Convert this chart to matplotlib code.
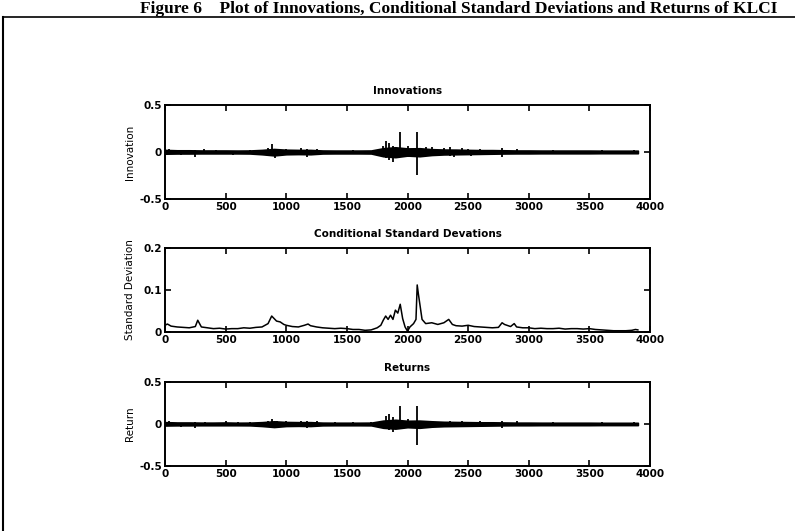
import matplotlib
matplotlib.use("Agg")
import matplotlib.pyplot as plt
from matplotlib.lines import Line2D

# ---------------- data ----------------
band_x = [0, 100, 200, 300, 400, 500, 600, 700, 800, 900, 1000, 1100, 1200, 1300,
          1400, 1500, 1600, 1700, 1800, 1900, 2000, 2100, 2200, 2300, 2400, 2500,
          2600, 2700, 2800, 2900, 3000, 3100, 3200, 3300, 3400, 3500, 3600, 3700,
          3800, 3900]

innov_hi = [0.022, 0.018, 0.018, 0.016, 0.016, 0.016, 0.015, 0.016, 0.022, 0.032,
            0.024, 0.022, 0.022, 0.016, 0.015, 0.015, 0.015, 0.016, 0.040, 0.050,
            0.038, 0.040, 0.030, 0.026, 0.025, 0.022, 0.020, 0.020, 0.018, 0.016,
            0.016, 0.015, 0.015, 0.015, 0.015, 0.015, 0.014, 0.014, 0.014, 0.014]
innov_lo = [-0.018, -0.016, -0.016, -0.015, -0.015, -0.015, -0.015, -0.016, -0.024, -0.036,
            -0.024, -0.022, -0.024, -0.016, -0.015, -0.015, -0.015, -0.016, -0.045, -0.055,
            -0.038, -0.045, -0.032, -0.026, -0.024, -0.022, -0.020, -0.018, -0.016, -0.015,
            -0.015, -0.014, -0.014, -0.014, -0.014, -0.014, -0.013, -0.013, -0.013, -0.013]

innov_spike_x = [30, 130, 250, 320, 420, 560, 700, 800, 850, 880, 910, 1000, 1060, 1120,
                 1170, 1250, 1400, 1550, 1650, 1750, 1800, 1820, 1850, 1880, 1940, 2000,
                 2080, 2150, 2200, 2260, 2300, 2350, 2380, 2450, 2500, 2520, 2600, 2700,
                 2780, 2900, 3000, 3200, 3400, 3600, 3870]
innov_spike_lo = [-0.01, -0.03, -0.05, -0.01, -0.01, -0.03, -0.01, -0.03, -0.02, -0.04,
                  -0.06, -0.02, -0.03, -0.02, -0.05, -0.02, -0.02, -0.01, -0.02, -0.03,
                  -0.03, -0.06, -0.08, -0.11, -0.05, -0.05, -0.24, -0.04, -0.02, -0.04,
                  -0.02, -0.04, -0.05, -0.02, -0.03, -0.04, -0.02, -0.03, -0.05, -0.01,
                  -0.02, -0.01, -0.02, -0.01, -0.01]
innov_spike_hi = [0.03, 0.01, 0.02, 0.03, 0.02, 0.01, 0.02, 0.01, 0.04, 0.09,
                  0.03, 0.03, 0.01, 0.04, 0.03, 0.03, 0.01, 0.02, 0.01, 0.01,
                  0.06, 0.12, 0.10, 0.06, 0.21, 0.06, 0.21, 0.05, 0.05, 0.02,
                  0.04, 0.05, 0.02, 0.04, 0.03, 0.02, 0.03, 0.01, 0.04, 0.03,
                  0.01, 0.02, 0.01, 0.02, 0.02]

ret_hi = [0.022, 0.018, 0.018, 0.016, 0.016, 0.018, 0.015, 0.016, 0.022, 0.032,
          0.024, 0.022, 0.022, 0.016, 0.015, 0.015, 0.015, 0.016, 0.040, 0.050,
          0.038, 0.040, 0.032, 0.026, 0.024, 0.022, 0.020, 0.020, 0.018, 0.016,
          0.016, 0.015, 0.015, 0.015, 0.015, 0.015, 0.014, 0.014, 0.014, 0.014]
ret_lo = [-0.018, -0.016, -0.016, -0.015, -0.015, -0.015, -0.015, -0.016, -0.024, -0.036,
          -0.024, -0.022, -0.024, -0.016, -0.015, -0.015, -0.015, -0.016, -0.045, -0.055,
          -0.038, -0.045, -0.032, -0.026, -0.024, -0.022, -0.020, -0.018, -0.016, -0.015,
          -0.015, -0.014, -0.014, -0.014, -0.014, -0.014, -0.013, -0.013, -0.013, -0.013]

ret_spike_x = [30, 130, 250, 330, 500, 600, 700, 850, 880, 920, 1000, 1120, 1170, 1250,
               1400, 1550, 1700, 1820, 1850, 1880, 1940, 2000, 2080, 2150, 2200, 2260,
               2350, 2450, 2520, 2600, 2780, 2900, 3000, 3200, 3400, 3600, 3870]
ret_spike_lo = [-0.01, -0.03, -0.05, -0.01, -0.01, -0.02, -0.01, -0.02, -0.05, -0.05,
                -0.02, -0.02, -0.05, -0.02, -0.01, -0.02, -0.01, -0.06, -0.07, -0.10,
                -0.04, -0.05, -0.25, -0.03, -0.02, -0.03, -0.03, -0.02, -0.04, -0.02,
                -0.05, -0.01, -0.02, -0.01, -0.02, -0.01, -0.01]
ret_spike_hi = [0.03, 0.01, 0.02, 0.02, 0.03, 0.02, 0.02, 0.04, 0.06, 0.03,
                0.03, 0.04, 0.03, 0.03, 0.02, 0.02, 0.02, 0.10, 0.12, 0.08,
                0.22, 0.06, 0.21, 0.04, 0.04, 0.02, 0.03, 0.03, 0.02, 0.03,
                0.03, 0.03, 0.01, 0.02, 0.01, 0.02, 0.02]

std_x = [0, 20, 50, 100, 150, 200, 250, 270, 300, 350, 400, 450, 500, 550, 600, 650,
         700, 750, 800, 850, 880, 900, 920, 950, 980, 1000, 1050, 1100, 1150, 1180,
         1200, 1250, 1300, 1350, 1400, 1450, 1500, 1550, 1600, 1650, 1700, 1750,
         1780, 1800, 1820, 1840, 1860, 1880, 1900, 1920, 1940, 1960, 1980, 2000,
         2020, 2050, 2070, 2080, 2090, 2100, 2120, 2150, 2200, 2250, 2300, 2340,
         2370, 2400, 2450, 2500, 2550, 2600, 2650, 2700, 2750, 2780, 2800, 2850,
         2880, 2900, 2950, 3000, 3050, 3100, 3150, 3200, 3250, 3300, 3350, 3400,
         3450, 3500, 3550, 3600, 3650, 3700, 3750, 3800, 3850, 3880, 3900]
std_y = [0.016, 0.019, 0.014, 0.012, 0.011, 0.010, 0.013, 0.028, 0.012, 0.010,
         0.008, 0.009, 0.007, 0.008, 0.008, 0.010, 0.009, 0.011, 0.012, 0.020,
         0.038, 0.032, 0.026, 0.024, 0.018, 0.016, 0.013, 0.012, 0.016, 0.019,
         0.015, 0.012, 0.010, 0.009, 0.008, 0.009, 0.008, 0.006, 0.006, 0.004,
         0.005, 0.010, 0.016, 0.028, 0.038, 0.030, 0.040, 0.030, 0.052, 0.045,
         0.066, 0.032, 0.012, 0.002, 0.012, 0.020, 0.030, 0.112, 0.090, 0.070,
         0.030, 0.020, 0.022, 0.018, 0.022, 0.030, 0.018, 0.015, 0.014, 0.016,
         0.013, 0.012, 0.011, 0.010, 0.011, 0.022, 0.018, 0.013, 0.020, 0.012,
         0.010, 0.010, 0.008, 0.009, 0.008, 0.008, 0.009, 0.007, 0.008, 0.008,
         0.007, 0.008, 0.006, 0.005, 0.004, 0.003, 0.003, 0.003, 0.004, 0.006, 0.005]

x_ticks = [0, 500, 1000, 1500, 2000, 2500, 3000, 3500, 4000]
ret_yticks = [-0.5, 0, 0.5]
std_yticks = [0, 0.1, 0.2]

titles = ["Innovations", "Conditional Standard Devations", "Returns"]
ylabels = ["Innovation", "Standard Deviation", "Return"]
fig_title = "Figure 6    Plot of Innovations, Conditional Standard Deviations and Returns of KLCI"

# ---------------- drawing ----------------
W, H = 795, 531
fig = plt.figure(figsize=(W / 100, H / 100), dpi=100)
plt.rcParams['font.family'] = ['DejaVu Sans']

def rect(left, top, right, bottom):
    return [left / W, 1 - bottom / H, (right - left) / W, (bottom - top) / H]

ax1 = fig.add_axes(rect(165, 105, 650, 199))
ax2 = fig.add_axes(rect(165, 248, 650, 332))
ax3 = fig.add_axes(rect(165, 382, 650, 466))

fs = 7.5

def style(ax, yticks, ylabels_txt, title, ylabel):
    ax.set_xlim(0, 4000)
    ax.set_xticks(x_ticks)
    ax.set_xticklabels([str(t) for t in x_ticks], fontsize=fs, fontweight='bold')
    ax.set_yticks(yticks)
    ax.set_yticklabels(ylabels_txt, fontsize=fs, fontweight='bold')
    ax.tick_params(direction='in', top=True, right=True, length=4, width=1.2, pad=2)
    for s in ax.spines.values():
        s.set_linewidth(1.4)
    ax.set_title(title, fontsize=fs, fontweight='bold', pad=8)
    ax.set_ylabel(ylabel, fontsize=fs)
    ax.yaxis.set_label_coords(-30 / 485, 0.5)

# Innovations
ax1.fill_between(band_x, innov_lo, innov_hi, color='black', lw=1.2)
ax1.vlines(innov_spike_x, innov_spike_lo, innov_spike_hi, color='black', lw=1.3)
ax1.set_ylim(-0.5, 0.5)
style(ax1, ret_yticks, ["-0.5", "0", "0.5"], titles[0], ylabels[0])

# Conditional std
ax2.plot(std_x, std_y, color='black', lw=1.1)
ax2.set_ylim(0, 0.2)
style(ax2, std_yticks, ["0", "0.1", "0.2"], titles[1], ylabels[1])

# Returns
ax3.fill_between(band_x, ret_lo, ret_hi, color='black', lw=1.2)
ax3.vlines(ret_spike_x, ret_spike_lo, ret_spike_hi, color='black', lw=1.3)
ax3.set_ylim(-0.5, 0.5)
style(ax3, ret_yticks, ["-0.5", "0", "0.5"], titles[2], ylabels[2])

# figure frame and title
fig.add_artist(Line2D([3 / W, 1], [1 - 17 / H, 1 - 17 / H], color='black', lw=1.2))
fig.add_artist(Line2D([3 / W, 3 / W], [0, 1 - 17 / H], color='black', lw=1.5))
fig.text(459 / W, 1 - 9 / H, fig_title, ha='center', va='center',
         fontsize=12.5, fontweight='bold', family=['Liberation Serif', 'DejaVu Serif'])

fig.savefig("out.png", dpi=100)
